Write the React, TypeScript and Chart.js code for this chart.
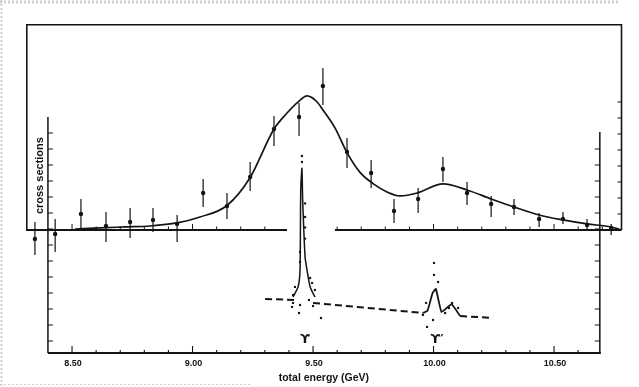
import React, { useEffect, useRef } from "react";
import { Chart, registerables } from "chart.js";

Chart.register(...registerables);

// ---- top panel: measured (smeared) cross sections ----
const topEnergy = [8.346, 8.430, 8.537, 8.641, 8.741, 8.836, 8.936, 9.044, 9.143, 9.239, 9.338, 9.442, 9.541, 9.641, 9.741, 9.836, 9.936, 10.039, 10.139, 10.239, 10.334, 10.438, 10.537, 10.637, 10.737];
const topValue = [-0.56, -0.25, 1.0, 0.25, 0.5, 0.63, 0.38, 2.31, 1.5, 3.31, 6.31, 7.06, 9.0, 4.88, 3.56, 1.19, 1.94, 3.81, 2.31, 1.63, 1.44, 0.69, 0.69, 0.31, 0.13];
const topErrHigh = [0.5, 0.69, 1.94, 1.13, 1.38, 1.38, 0.94, 3.19, 2.31, 4.25, 7.13, 7.94, 10.13, 5.75, 4.38, 1.94, 2.63, 4.56, 3.0, 2.13, 1.94, 1.06, 1.13, 0.69, 0.38];
const topErrLow = [-1.56, -1.38, 0.0, -0.75, -0.5, -0.13, -0.75, 1.44, 0.69, 2.44, 5.25, 5.88, 7.81, 3.88, 2.63, 0.44, 1.06, 3.0, 1.56, 0.81, 0.94, 0.19, 0.38, 0.0, -0.31];

// smooth fitted curve of the top panel
const fitEnergy = [8.512, 8.616, 8.720, 8.824, 8.936, 9.031, 9.143, 9.239, 9.338, 9.392, 9.442, 9.475, 9.517, 9.541, 9.591, 9.641, 9.695, 9.749, 9.807, 9.861, 9.932, 10.039, 10.139, 10.239, 10.334, 10.438, 10.537, 10.637, 10.737, 10.779];
const fitValue = [0.06, 0.13, 0.19, 0.25, 0.44, 0.81, 1.53, 3.28, 6.31, 7.31, 8.06, 8.38, 8.0, 7.5, 6.38, 4.84, 3.6, 2.9, 2.38, 2.13, 2.31, 2.88, 2.5, 1.94, 1.44, 0.94, 0.63, 0.38, 0.19, 0.0];

// ---- lower panel: unsmeared resonances ----
const bgEnergy = [9.301, 9.430, 9.465, 9.500, 9.956, 10.030, 10.110, 10.247];
const bgValue = [2.63, 2.56, null, 2.38, 1.75, null, 1.56, 1.44];

const upsEnergy = [9.417, 9.438, 9.446, 9.449, 9.454, 9.457, 9.467, 9.475, 9.488, 9.508];
const upsValue = [2.75, 3.38, 4.44, 9.44, 10.8, 8.81, 5.25, 4.44, 3.38, 2.75];

const ups2Energy = [9.956, 9.975, 9.996, 10.010, 10.033, 10.075, 10.110];
const ups2Value = [1.75, 1.9, 3.0, 3.25, 1.81, 2.3, 1.56];

const dotEnergy = [9.454, 9.454, 9.467, 9.467, 9.467, 9.467, 9.446, 9.446, 9.425, 9.417, 9.417, 9.413, 9.446, 9.442, 9.488, 9.508, 9.483, 9.500, 9.533, 9.496, 10.002, 10.002, 10.019, 9.969, 9.956, 9.998, 9.973, 10.077, 10.064, 10.048, 10.102];
const dotValue = [11.56, 11.19, 8.6, 7.75, 7.1, 6.4, 5.56, 4.94, 3.38, 2.88, 2.38, 2.13, 2.25, 1.75, 3.94, 3.19, 2.56, 2.19, 1.44, 3.63, 4.88, 4.13, 3.69, 2.38, 1.63, 1.31, 0.88, 2.38, 2.06, 1.75, 2.06];

// ---- axis text ----
const xTickValues = [8.5, 9.0, 9.5, 10.0, 10.5];
const xTickLabels = ["8.50", "9.00", "9.50", "10.00", "10.50"];
const xTitle = "total energy (GeV)";
const yTitle = "cross sections";
const peakLabels = ["ϒ", "ϒ′"];
const peakLabelEnergy = [9.467, 10.015];

// full plotting range (outer frame) and lower-panel axis range
const X_MIN = 8.309;
const X_MAX = 10.782;
const LOW_X_MIN = 8.4;
const LOW_X_MAX = 10.69;
const TOP_MIN = -7.6875;
const TOP_MAX = 12.875;
const LOW_MIN = -0.75;
const LOW_MAX = 19.8125;

const INK = "#141414";

const framePlugin = {
  id: "frame",
  beforeDraw(chart: any) {
    const { ctx, width, height } = chart;
    ctx.save();
    ctx.fillStyle = "#ffffff";
    ctx.fillRect(0, 0, width, height);
    // faint scan border
    ctx.strokeStyle = "#cfcfcf";
    ctx.setLineDash([2, 2]);
    ctx.lineWidth = 3;
    ctx.beginPath();
    ctx.moveTo(0, 2);
    ctx.lineTo(width - 20, 2);
    ctx.stroke();
    ctx.lineWidth = 2;
    ctx.beginPath();
    ctx.moveTo(1.5, 0);
    ctx.lineTo(1.5, height);
    ctx.stroke();
    ctx.lineWidth = 1;
    ctx.beginPath();
    ctx.moveTo(0, height - 2.5);
    ctx.lineTo(250, height - 2.5);
    ctx.stroke();
    ctx.restore();
  },
  beforeDatasetsDraw(chart: any) {
    const { ctx } = chart;
    const x = chart.scales.x;
    const yT = chart.scales.yTop;
    const yL = chart.scales.yLow;
    const px = (v: number) => x.getPixelForValue(v);
    ctx.save();
    ctx.strokeStyle = INK;
    ctx.lineCap = "butt";

    // outer box of the upper panel
    const bx0 = px(X_MIN);
    const bx1 = px(X_MAX) - 0.5;
    const byTop = yT.getPixelForValue(TOP_MAX);
    const byBase = yT.getPixelForValue(0);
    ctx.lineWidth = 1.6;
    ctx.beginPath();
    ctx.moveTo(bx0 + 0.8, byBase);
    ctx.lineTo(bx0 + 0.8, byTop + 0.8);
    ctx.lineTo(bx1, byTop + 0.8);
    ctx.lineTo(bx1, byBase);
    ctx.stroke();

    // upper-panel baseline with gap
    ctx.lineWidth = 1.8;
    ctx.beginPath();
    ctx.moveTo(bx0, byBase);
    ctx.lineTo(px(9.392), byBase);
    ctx.moveTo(px(9.591), byBase);
    ctx.lineTo(bx1, byBase);
    ctx.stroke();
    ctx.lineWidth = 1;
    ctx.beginPath();
    for (let k = 85; k <= 107; k++) {
      const v = k / 10;
      if (v > 9.38 && v < 9.6) continue;
      const len = k % 5 === 0 ? 6 : 3.5;
      ctx.moveTo(px(v), byBase);
      ctx.lineTo(px(v), byBase - len);
    }
    // right-side ticks of the outer box
    for (let k = 1; k <= 8; k++) {
      const yy = yT.getPixelForValue(k);
      ctx.moveTo(bx1, yy);
      ctx.lineTo(bx1 - 4, yy);
    }
    ctx.stroke();

    // lower panel axes
    const lx0 = px(LOW_X_MIN);
    const lx1 = px(LOW_X_MAX);
    const lyBot = yL.getPixelForValue(LOW_MIN);
    ctx.lineWidth = 1.5;
    ctx.beginPath();
    ctx.moveTo(lx0, yL.getPixelForValue(14.0));
    ctx.lineTo(lx0, lyBot);
    ctx.moveTo(lx1, yL.getPixelForValue(13.06));
    ctx.lineTo(lx1, lyBot);
    ctx.stroke();
    ctx.lineWidth = 2.2;
    ctx.beginPath();
    ctx.moveTo(lx0, lyBot);
    ctx.lineTo(lx1 + 1, lyBot);
    ctx.stroke();

    ctx.lineWidth = 1.1;
    ctx.beginPath();
    for (let k = 0; k <= 13; k++) {
      const yy = yL.getPixelForValue(k);
      ctx.moveTo(lx0, yy);
      ctx.lineTo(lx0 + 5, yy);
    }
    for (let k = 0; k <= 12; k++) {
      const yy = yL.getPixelForValue(k);
      ctx.moveTo(lx1, yy);
      ctx.lineTo(lx1 - 5, yy);
    }
    for (let k = 85; k <= 106; k++) {
      const v = k / 10;
      const len = k % 5 === 0 ? 7 : 3;
      ctx.moveTo(px(v), lyBot);
      ctx.lineTo(px(v), lyBot - len);
    }
    ctx.stroke();

    // texts
    ctx.fillStyle = INK;
    ctx.textAlign = "center";
    ctx.textBaseline = "middle";
    ctx.font = 'bold 9px "Liberation Sans"';
    xTickValues.forEach((v, i) => {
      ctx.fillText(xTickLabels[i], px(v) + 1, lyBot + 11);
    });
    ctx.font = 'bold 10.5px "Liberation Sans"';
    ctx.fillText(xTitle, (lx0 + lx1) / 2, lyBot + 25);

    ctx.font = 'bold 13px "DejaVu Sans"';
    peakLabels.forEach((t, i) => {
      ctx.fillText(t, px(peakLabelEnergy[i]), yL.getPixelForValue(0.1));
    });

    ctx.save();
    ctx.translate(lx0 - 8, yT.getPixelForValue(3.4));
    ctx.rotate(-Math.PI / 2);
    ctx.font = 'bold 11px "Liberation Sans"';
    ctx.fillText(yTitle, 0, 0);
    ctx.restore();

    ctx.restore();
  },
};

export default function App() {
  const canvasRef = useRef<HTMLCanvasElement | null>(null);

  useEffect(() => {
    const canvas = canvasRef.current;
    if (!canvas) return;

    const errData: any[] = [];
    topEnergy.forEach((e, i) => {
      errData.push({ x: e, y: topErrLow[i] });
      errData.push({ x: e, y: topErrHigh[i] });
      errData.push({ x: e, y: null });
    });

    const chart = new Chart(canvas, {
      type: "line",
      data: {
        datasets: [
          {
            label: "fit",
            data: fitEnergy.map((e, i) => ({ x: e, y: fitValue[i] })),
            yAxisID: "yTop",
            borderColor: INK,
            borderWidth: 1.7,
            pointRadius: 0,
            cubicInterpolationMode: "monotone",
            clip: false as any,
          },
          {
            label: "error bars",
            data: errData,
            yAxisID: "yTop",
            borderColor: INK,
            borderWidth: 1.2,
            pointRadius: 0,
            spanGaps: false,
            clip: false as any,
          },
          {
            label: "measured",
            data: topEnergy.map((e, i) => ({ x: e, y: topValue[i] })),
            yAxisID: "yTop",
            showLine: false,
            pointRadius: 2.2,
            pointBackgroundColor: INK,
            pointBorderColor: INK,
            pointBorderWidth: 0,
            clip: false as any,
          },
          {
            label: "background",
            data: bgEnergy.map((e, i) => ({ x: e, y: bgValue[i] })),
            yAxisID: "yLow",
            borderColor: INK,
            borderWidth: 2,
            borderDash: [7, 4],
            pointRadius: 0,
            spanGaps: false,
          },
          {
            label: "Upsilon",
            data: upsEnergy.map((e, i) => ({ x: e, y: upsValue[i] })),
            yAxisID: "yLow",
            borderColor: INK,
            borderWidth: 1.5,
            pointRadius: 0,
            tension: 0.2,
          },
          {
            label: "Upsilon prime",
            data: ups2Energy.map((e, i) => ({ x: e, y: ups2Value[i] })),
            yAxisID: "yLow",
            borderColor: INK,
            borderWidth: 1.8,
            pointRadius: 0,
            tension: 0.1,
          },
          {
            label: "unsmeared points",
            data: dotEnergy.map((e, i) => ({ x: e, y: dotValue[i] })),
            yAxisID: "yLow",
            showLine: false,
            pointRadius: 1.2,
            pointBackgroundColor: INK,
            pointBorderWidth: 0,
          },
        ],
      },
      options: {
        animation: false,
        responsive: false,
        maintainAspectRatio: false,
        layout: { padding: { left: 26, right: 17, top: 24, bottom: 34 } },
        plugins: { legend: { display: false }, tooltip: { enabled: false } },
        scales: {
          x: { type: "linear", min: X_MIN, max: X_MAX, display: false },
          yTop: { type: "linear", min: TOP_MIN, max: TOP_MAX, display: false },
          yLow: { type: "linear", min: LOW_MIN, max: LOW_MAX, display: false },
        },
      },
      plugins: [framePlugin],
    });

    return () => chart.destroy();
  }, []);

  return (
    <div style={{ position: "fixed", left: 0, top: 0, width: 639, height: 387, background: "#fff" }}>
      <canvas ref={canvasRef} width={639} height={387} style={{ width: 639, height: 387, display: "block" }} />
    </div>
  );
}
